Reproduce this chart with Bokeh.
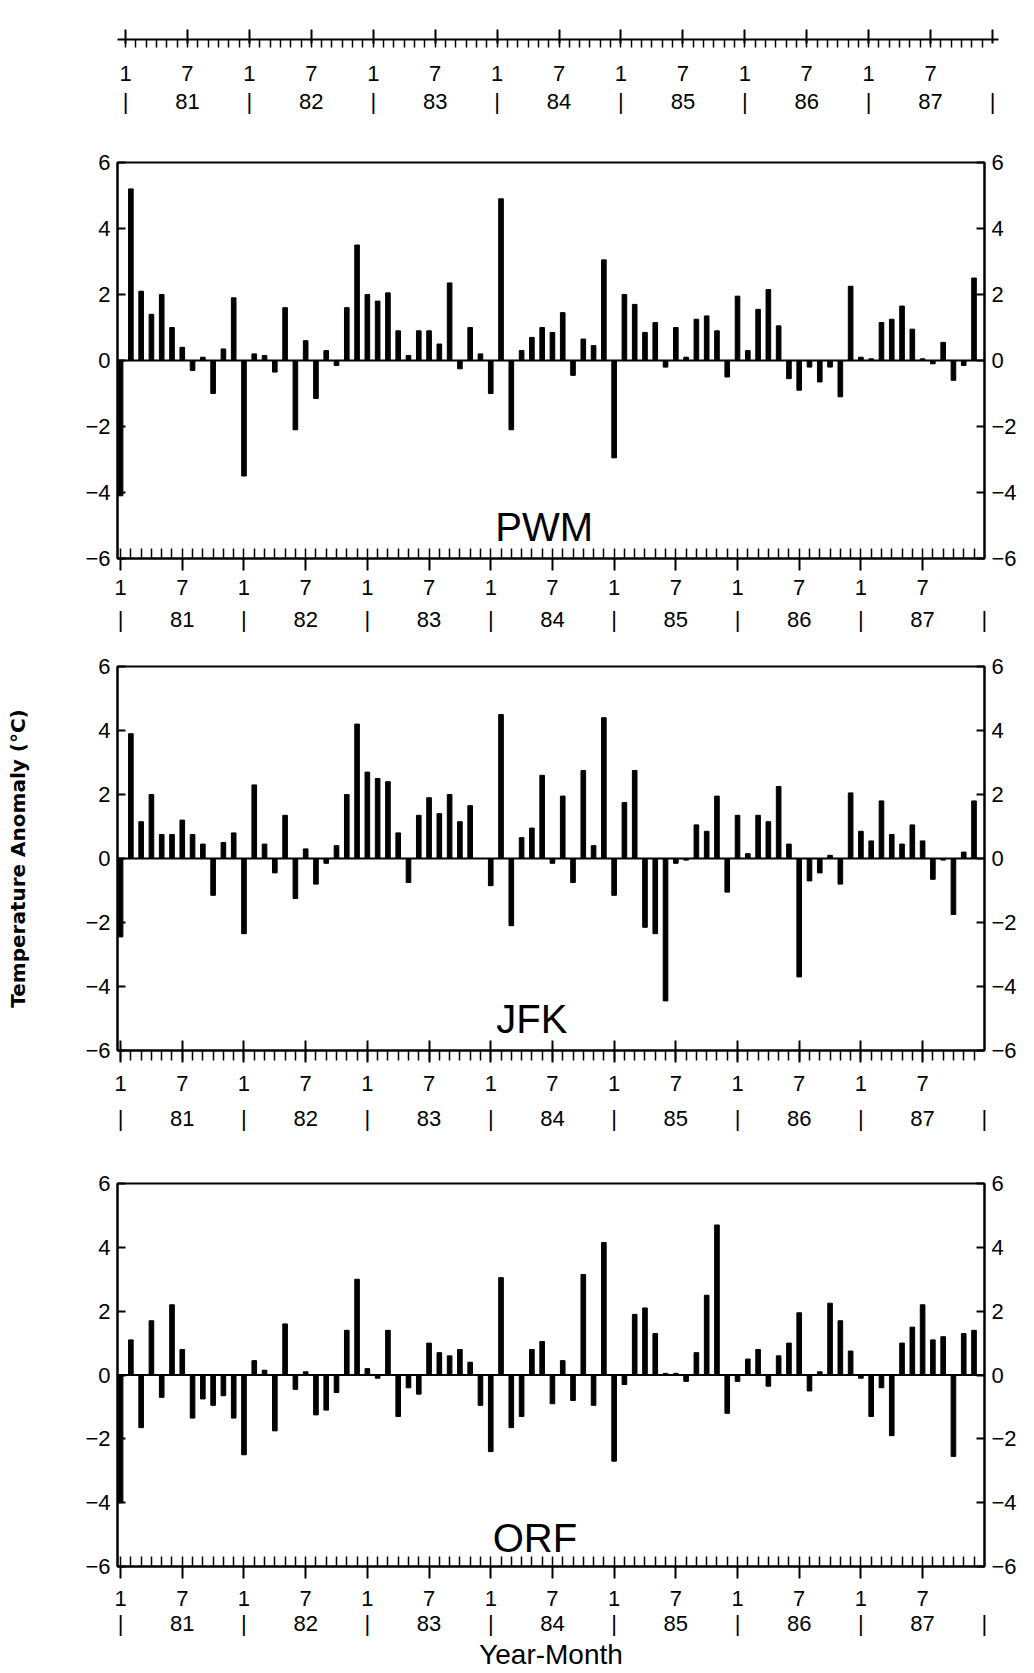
import numpy as np
from bokeh.plotting import figure
from bokeh.models import Range1d, FixedTicker, LinearAxis, Span, Label
from bokeh.layouts import column
from bokeh.embed import file_html
from bokeh.resources import INLINE

# ---------------- data ----------------
months = list(range(84))              # Jan 1981 .. Dec 1987 (month index)
years = ["81", "82", "83", "84", "85", "86", "87"]
month_labels = ["1", "7"]
y_ticks = [-6, -4, -2, 0, 2, 4, 6]

pwm = [-4.1, 5.2, 2.1, 1.4, 2.0, 1.0, 0.4, -0.3, 0.1, -1.0, 0.35, 1.9,
       -3.5, 0.2, 0.15, -0.35, 1.6, -2.1, 0.6, -1.15, 0.3, -0.15, 1.6, 3.5,
       2.0, 1.8, 2.05, 0.9, 0.15, 0.9, 0.9, 0.5, 2.35, -0.25, 1.0, 0.2,
       -1.0, 4.9, -2.1, 0.3, 0.7, 1.0, 0.85, 1.45, -0.45, 0.65, 0.45, 3.05,
       -2.95, 2.0, 1.7, 0.85, 1.15, -0.2, 1.0, 0.1, 1.25, 1.35, 0.9, -0.5,
       1.95, 0.3, 1.55, 2.15, 1.05, -0.55, -0.9, -0.2, -0.65, -0.2, -1.1, 2.25,
       0.1, 0.05, 1.15, 1.25, 1.65, 0.95, 0.05, -0.1, 0.55, -0.6, -0.15, 2.5]

jfk = [-2.45, 3.9, 1.15, 2.0, 0.75, 0.75, 1.2, 0.75, 0.45, -1.15, 0.5, 0.8,
       -2.35, 2.3, 0.45, -0.45, 1.35, -1.25, 0.3, -0.8, -0.15, 0.4, 2.0, 4.2,
       2.7, 2.5, 2.4, 0.8, -0.75, 1.35, 1.9, 1.4, 2.0, 1.15, 1.65, 0.0,
       -0.85, 4.5, -2.1, 0.65, 0.95, 2.6, -0.15, 1.95, -0.75, 2.75, 0.4, 4.4,
       -1.15, 1.75, 2.75, -2.15, -2.35, -4.45, -0.15, -0.05, 1.05, 0.85, 1.95, -1.05,
       1.35, 0.15, 1.35, 1.15, 2.25, 0.45, -3.7, -0.7, -0.45, 0.1, -0.8, 2.05,
       0.85, 0.55, 1.8, 0.75, 0.45, 1.05, 0.55, -0.65, -0.05, -1.75, 0.2, 1.8]

orf = [-4.0, 1.1, -1.65, 1.7, -0.7, 2.2, 0.8, -1.35, -0.75, -0.95, -0.65, -1.35,
       -2.5, 0.45, 0.15, -1.75, 1.6, -0.45, 0.1, -1.25, -1.1, -0.55, 1.4, 3.0,
       0.2, -0.1, 1.4, -1.3, -0.4, -0.6, 1.0, 0.7, 0.6, 0.8, 0.4, -0.95,
       -2.4, 3.05, -1.65, -1.3, 0.8, 1.05, -0.9, 0.45, -0.8, 3.15, -0.95, 4.15,
       -2.7, -0.3, 1.9, 2.1, 1.3, 0.05, 0.05, -0.2, 0.7, 2.5, 4.7, -1.2,
       -0.2, 0.5, 0.8, -0.35, 0.6, 1.0, 1.95, -0.5, 0.1, 2.25, 1.7, 0.75,
       -0.1, -1.3, -0.4, -1.9, 1.0, 1.5, 2.2, 1.1, 1.2, -2.55, 1.3, 1.4]

FONT = "Liberation Sans"
TICK_FS = "22px"


def month_axis(tick_in, tick_out, minor_in, minor_out, standoff):
    ticks = list(range(0, 84, 6))
    ax = LinearAxis(ticker=FixedTicker(ticks=ticks, minor_ticks=months),
                    major_label_overrides={t: month_labels[(t // 6) % 2] for t in ticks})
    ax.axis_line_width = 2
    ax.major_tick_line_width = 2
    ax.minor_tick_line_width = 1.5
    ax.major_tick_in = tick_in
    ax.major_tick_out = tick_out
    ax.minor_tick_in = minor_in
    ax.minor_tick_out = minor_out
    ax.major_label_standoff = standoff
    ax.major_label_text_font = FONT
    ax.major_label_text_font_size = TICK_FS
    ax.major_label_text_color = "black"
    return ax


def year_axis(standoff):
    ticks = list(range(0, 85, 6))
    labels = {}
    for t in ticks:
        labels[t] = "|" if t % 12 == 0 else years[t // 12]
    ax = LinearAxis(ticker=FixedTicker(ticks=ticks, minor_ticks=[]),
                    major_label_overrides=labels)
    ax.axis_line_color = None
    ax.major_tick_line_color = None
    ax.major_tick_in = 0
    ax.major_tick_out = 0
    ax.major_label_standoff = standoff
    ax.major_label_text_font = FONT
    ax.major_label_text_font_size = TICK_FS
    ax.major_label_text_color = "black"
    return ax


def value_axis():
    ax = LinearAxis(ticker=FixedTicker(ticks=y_ticks, minor_ticks=[]))
    ax.axis_line_width = 2
    ax.major_tick_line_width = 2
    ax.major_tick_in = 8
    ax.major_tick_out = 0
    ax.major_label_standoff = 7
    ax.major_label_text_font = FONT
    ax.major_label_text_font_size = TICK_FS
    ax.major_label_text_color = "black"
    return ax


def panel(values, name, name_x, name_y, frame_h, b_top, b_bottom,
          tick_in, tick_out, minor_in, minor_out, s1, s2):
    p = figure(frame_width=867, frame_height=frame_h,
               x_range=Range1d(-0.3, 84.02), y_range=Range1d(-6, 6),
               min_border_left=117, min_border_right=45,
               min_border_top=b_top, min_border_bottom=b_bottom,
               x_axis_location=None, y_axis_location=None,
               output_backend="svg", toolbar_location=None)
    p.grid.visible = False
    p.outline_line_color = "black"
    p.outline_line_width = 2
    p.background_fill_color = "white"
    p.border_fill_color = "white"
    p.add_layout(Span(location=0, dimension="width", line_color="black", line_width=2))
    p.vbar(x=months, top=values, bottom=0, width=0.45,
           fill_color="black", line_color="black")
    p.add_layout(month_axis(tick_in, tick_out, minor_in, minor_out, s1), "below")
    p.add_layout(year_axis(s2), "below")
    p.add_layout(value_axis(), "left")
    p.add_layout(value_axis(), "right")
    p.add_layout(Label(x=name_x, y=name_y, text=name, text_align="center",
                       text_baseline="middle", text_font=FONT,
                       text_font_size="40px", text_color="black"))
    return p


# ---------------- top strip (axis only) ----------------
top = figure(frame_width=881, frame_height=2,
             x_range=Range1d(-0.78, 84.58), y_range=Range1d(0, 1),
             min_border_left=117, min_border_right=10,
             min_border_top=37, min_border_bottom=91,
             x_axis_location=None, y_axis_location=None,
             output_backend="svg", toolbar_location=None)
top.grid.visible = False
top.outline_line_color = None
top_ax = month_axis(10, 4, 0, 8, 18)
top_ax.ticker = FixedTicker(ticks=list(range(0, 85, 6)), minor_ticks=months)
top_ax.major_label_overrides = {t: (month_labels[(t // 6) % 2] if t < 84 else "")
                                for t in range(0, 85, 6)}
top.add_layout(top_ax, "below")
top.add_layout(year_axis(5), "below")

p1 = panel(pwm, "PWM", 41.2, -5.05, 396, 32, 88, 0, 12, 10, 0, 9, 9)
p2 = panel(jfk, "JFK", 40.0, -5.0, 384, 20, 113, 10, 12, 0, 10, 13, 12)
p3 = panel(orf, "ORF", 40.3, -5.1, 383, 20, 107, 0, 12, 10, 0, 12, 2)

# shared y-axis title on the middle panel's left axis
ylab = p2.left[0]
ylab.axis_label = "Temperature Anomaly (\u00b0C)"
ylab.axis_label_text_font = "DejaVu Sans"
ylab.axis_label_text_font_style = "bold"
ylab.axis_label_text_font_size = "20px"
ylab.axis_label_text_color = "black"
ylab.axis_label_standoff = 52

# x-axis title under the bottom panel
xlab = p3.below[1]
xlab.axis_label = "Year-Month"
xlab.axis_label_text_font = FONT
xlab.axis_label_text_font_style = "normal"
xlab.axis_label_text_font_size = "28px"
xlab.axis_label_text_color = "black"
xlab.axis_label_standoff = 0

layout = column(top, p1, p2, p3, spacing=0)

open("out.html", "w").write(file_html(layout, INLINE))
